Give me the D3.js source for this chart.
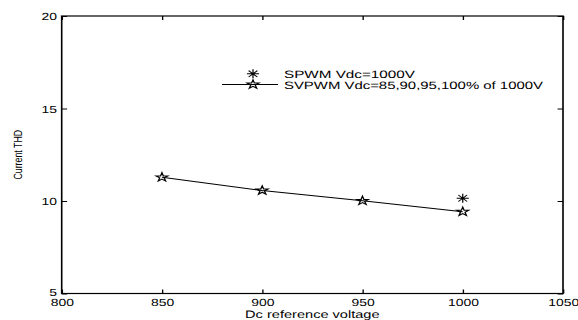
<!DOCTYPE html>
<html>
<head>
<meta charset="utf-8">
<script src="https://cdn.jsdelivr.net/npm/d3@7"></script>
<style>
  html, body { margin: 0; padding: 0; background: #fff; }
  svg { display: block; }
  text { font-family: "Liberation Sans", Arial, Helvetica, sans-serif; fill: #000; }
</style>
</head>
<body>
<script>
// ---- data ----
const voltages = [850, 900, 950, 1000];
const svpwmTHD = [11.28, 10.57, 10.01, 9.42];
const spwmVoltage = [1000];
const spwmTHD = [10.15];
const xTicks = [800, 850, 900, 950, 1000, 1050];
const yTicks = [5, 10, 15, 20];
const legendLabels = ["SPWM Vdc=1000V", "SVPWM Vdc=85,90,95,100% of 1000V"];
const xLabel = "Dc reference voltage";
const yLabel = "Current THD";

// ---- layout (the reference is horizontally stretched) ----
const W = 578, H = 320, SX = 1.35;
const VW = W / SX;
const m = { left: 61.7 / SX, right: 563 / SX, top: 16, bottom: 293.5 };
const FONT = '"Liberation Sans", Arial, Helvetica, sans-serif';

const svg = d3.select("body").append("svg")
  .attr("width", W).attr("height", H)
  .attr("viewBox", `0 0 ${VW} ${H}`)
  .attr("preserveAspectRatio", "none")
  .attr("text-rendering", "geometricPrecision");

const x = d3.scaleLinear().domain([800, 1050]).range([m.left, m.right]);
const y = d3.scaleLinear().domain([5, 20]).range([m.bottom, m.top]);

const tickLen = 4;
const xAxis = d3.axisBottom(x).tickValues(xTicks).tickSize(-tickLen).tickPadding(5).tickFormat(d3.format("d"));
const gx = svg.append("g").attr("transform", `translate(0,${m.bottom})`).call(xAxis);
const gxt = svg.append("g").attr("transform", `translate(0,${m.top})`)
  .call(d3.axisTop(x).tickValues(xTicks).tickSize(-tickLen).tickFormat(""));
const yAxis = d3.axisLeft(y).tickValues(yTicks).tickSize(-tickLen).tickPadding(3.5).tickFormat(d3.format("d"));
const gy = svg.append("g").attr("transform", `translate(${m.left},0)`).call(yAxis);
const gyr = svg.append("g").attr("transform", `translate(${m.right},0)`)
  .call(d3.axisRight(y).tickValues(yTicks).tickSize(-tickLen).tickFormat(""));

[gx, gxt, gy, gyr].forEach(g => {
  g.select(".domain").remove();
  g.selectAll(".tick line").attr("stroke", "#000").attr("stroke-width", 1);
  g.selectAll("text").attr("font-size", 10.3).attr("fill", "#000")
    .style("font-family", FONT);
});
gy.selectAll(".tick text").attr("dy", d => d === 5 ? "0.2em" : "0.34em");

// box
svg.append("rect")
  .attr("x", m.left).attr("y", m.top)
  .attr("width", m.right - m.left).attr("height", m.bottom - m.top)
  .attr("fill", "none").attr("stroke", "#000").attr("stroke-width", 1.2);

// axis labels
svg.append("text")
  .attr("x", (m.left + m.right) / 2).attr("y", 317.6)
  .attr("text-anchor", "middle").attr("font-size", 10.8).attr("fill", "#000")
  .style("font-family", FONT)
  .text(xLabel);
svg.append("text")
  .attr("transform", `translate(${22 / SX},${(m.top + m.bottom) / 2}) rotate(-90)`)
  .attr("text-anchor", "middle").attr("font-size", 8.8).attr("fill", "#000")
  .style("font-family", FONT)
  .text(yLabel);

// markers
const starPath = d3.symbol().type(d3.symbolStar).size(24)();
function asteriskPath(r) {
  const d = r * 0.72;
  return `M${-r},0L${r},0M0,${-r}L0,${r}M${-d},${-d}L${d},${d}M${-d},${d}L${d},${-d}`;
}

// SVPWM line
const pts = voltages.map((v, i) => [v, svpwmTHD[i]]);
svg.append("path")
  .attr("d", d3.line().x(d => x(d[0])).y(d => y(d[1]))(pts))
  .attr("fill", "none").attr("stroke", "#000").attr("stroke-width", 1);
svg.selectAll(".star").data(pts).enter().append("path")
  .attr("class", "star")
  .attr("transform", d => `translate(${x(d[0])},${y(d[1])})`)
  .attr("d", starPath)
  .attr("fill", "none").attr("stroke", "#000").attr("stroke-width", 1);

// SPWM asterisk
const spts = spwmVoltage.map((v, i) => [v, spwmTHD[i]]);
svg.selectAll(".ast").data(spts).enter().append("path")
  .attr("class", "ast")
  .attr("transform", d => `translate(${x(d[0])},${y(d[1])})`)
  .attr("d", asteriskPath(4.5))
  .attr("fill", "none").attr("stroke", "#000").attr("stroke-width", 0.9);

// legend
const lg = svg.append("g");
const lx = 253 / SX, tx = 284 / SX;
lg.append("path").attr("transform", `translate(${lx},73.8)`).attr("d", asteriskPath(4.5))
  .attr("fill", "none").attr("stroke", "#000").attr("stroke-width", 0.9);
lg.append("text").attr("x", tx).attr("y", 78).attr("font-size", 10.6).attr("fill", "#000")
  .attr("textLength", 131 / SX).attr("lengthAdjust", "spacingAndGlyphs")
  .style("font-family", FONT).text(legendLabels[0]);
lg.append("line").attr("x1", 222 / SX).attr("x2", 278 / SX).attr("y1", 84.5).attr("y2", 84.5)
  .attr("stroke", "#000").attr("stroke-width", 1);
lg.append("path").attr("transform", `translate(${lx},84.5)`).attr("d", starPath)
  .attr("fill", "none").attr("stroke", "#000").attr("stroke-width", 1);
lg.append("text").attr("x", tx).attr("y", 88.6).attr("font-size", 10.6).attr("fill", "#000")
  .attr("textLength", 259 / SX).attr("lengthAdjust", "spacingAndGlyphs")
  .style("font-family", FONT).text(legendLabels[1]);
</script>
</body>
</html>
